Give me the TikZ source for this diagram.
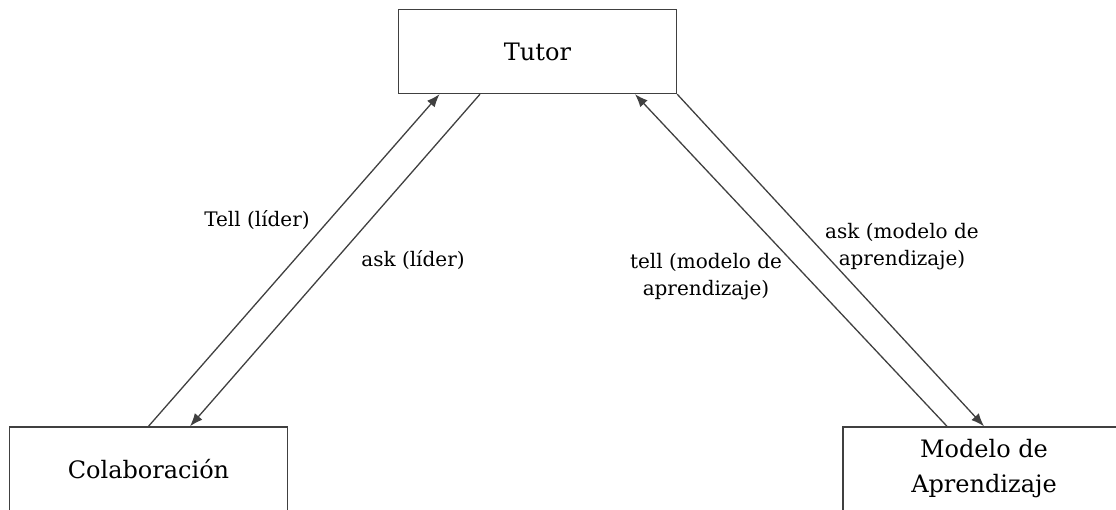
\documentclass[tikz,border=0pt]{standalone}
\usepackage{fontspec}
\setmainfont{DejaVu Serif}
\usetikzlibrary{arrows.meta,calc}
\definecolor{linea}{HTML}{404040}
\begin{document}
\begin{tikzpicture}[x=1pt,y=1pt,
        caja/.style={draw=linea,line width=1.4pt,fill=white,minimum width=278pt,minimum height=84pt,align=center,font=\fontsize{24}{35}\selectfont},
        etiq/.style={align=center,font=\fontsize{20}{27}\selectfont},
        flecha/.style={-{Latex[length=13pt,width=10pt]},line width=1.3pt,draw=linea}]
                \useasboundingbox (0,0) rectangle (1116,509);
                \clip (0,0) rectangle (1116,509);
                \node[caja] (tutor) at (537.5,457.5) {Tutor};
                \node[caja] (colab) at (148.5,40) {Colaboración};
                \node[caja,minimum width=282pt] (modelo) at (984,40) {Modelo de\\Aprendizaje};
                \draw[flecha] (colab.north)--($(tutor.south)+(-98,0)$);
                \draw[flecha] ($(tutor.south)+(-57.5,0)$)--($(colab.north)+(41.5,0)$);
                \draw[flecha] ($(modelo.north)+(-37,0)$)--($(tutor.south)+(97.5,0)$);
                \draw[flecha] (tutor.south east)--(modelo.north);
                \node[etiq] (tellLider) at (257,289) {Tell (líder)};
                \node[etiq] (askLider) at (413,249) {ask (líder)};
                \node[etiq] (tellModelo) at (706,232.5) {tell (modelo de\\aprendizaje)};
                \node[etiq] (askModelo) at (902,262.5) {ask (modelo de\\aprendizaje)};
            \end{tikzpicture}
\end{document}
